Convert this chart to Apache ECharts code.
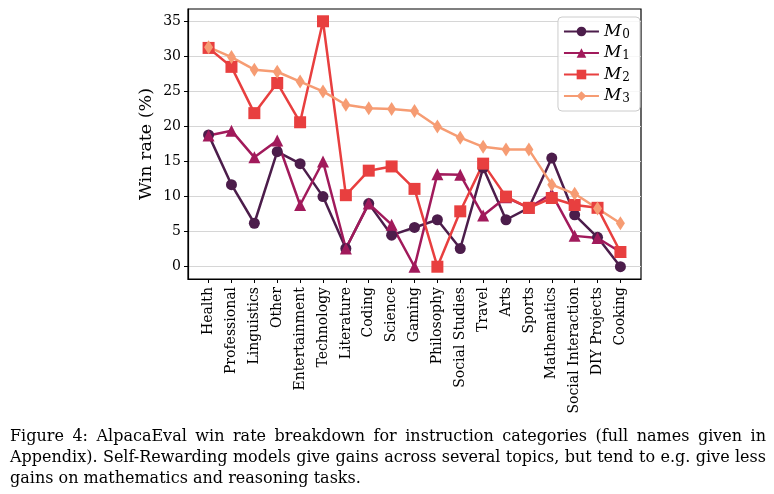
<!DOCTYPE html>
<html>
<head>
<meta charset="utf-8">
<script src="https://cdn.jsdelivr.net/npm/echarts@6/dist/echarts.min.js"></script>
<style>
html,body{margin:0;padding:0;background:#fff;}
#chart{width:774px;height:494px;}
</style>
</head>
<body>
<div id="chart"></div>
<script>
const categories = ["Health","Professional","Linguistics","Other","Entertainment","Technology","Literature","Coding","Science","Gaming","Philosophy","Social Studies","Travel","Arts","Sports","Mathematics","Social Interaction","DIY Projects","Cooking"];
const m0 = [18.8, 11.7, 6.2, 16.4, 14.7, 10.0, 2.6, 9.0, 4.5, 5.6, 6.7, 2.6, 14.1, 6.7, 8.4, 15.5, 7.4, 4.2, 0.0];
const m1 = [18.7, 19.4, 15.6, 18.0, 8.8, 15.0, 2.6, 9.0, 6.0, 0.0, 13.2, 13.1, 7.3, 9.9, 8.4, 10.4, 4.4, 4.1, 2.1];
const m2 = [31.2, 28.5, 21.9, 26.2, 20.6, 35.0, 10.2, 13.7, 14.3, 11.1, 0.0, 7.9, 14.7, 10.0, 8.4, 9.8, 8.8, 8.4, 2.1];
const m3 = [31.3, 29.9, 28.1, 27.8, 26.4, 25.0, 23.1, 22.6, 22.5, 22.2, 20.0, 18.4, 17.1, 16.7, 16.7, 11.7, 10.4, 8.3, 6.2];
const yTicks = [0, 5, 10, 15, 20, 25, 30, 35];
const seriesNames = ["M0", "M1", "M2", "M3"];
const seriesColors = ["#4c1d4b", "#a11a5b", "#e83f3f", "#f69c73"];
const captionLines = [
  "Figure 4: AlpacaEval win rate breakdown for instruction categories (full names given in",
  "Appendix). Self-Rewarding models give gains across several topics, but tend to e.g. give less",
  "gains on mathematics and reasoning tasks."
];

const FONT = '"DejaVu Serif", serif';
const chart = echarts.init(document.getElementById('chart'));
const xIdx = categories.map((_, i) => i);
const toPairs = arr => arr.map((v, i) => [i, v]);
const symbols = ['circle', 'triangle', 'rect', 'diamond'];
const symbolSizes = [11, 12, 12, [9, 14]];
const datasets = [m0, m1, m2, m3];

// caption: justified lines built from words
const capFontSize = 16;
const capFont = capFontSize + 'px ' + FONT;
const ctx = document.createElement('canvas').getContext('2d');
ctx.font = capFont;
const capLeft = 10, capRight = 766;
const capY = [437, 458, 479];
const graphics = [];
captionLines.forEach((line, li) => {
  const justify = li < captionLines.length - 1;
  if (!justify) {
    graphics.push({type: 'text', x: capLeft, y: capY[li], style: {text: line, font: capFont, fill: '#000', textVerticalAlign: 'middle'}});
    return;
  }
  const words = line.split(' ');
  const widths = words.map(w => ctx.measureText(w).width);
  const total = widths.reduce((a, b) => a + b, 0);
  const gap = (capRight - capLeft - total) / (words.length - 1);
  let x = capLeft;
  words.forEach((w, wi) => {
    graphics.push({type: 'text', x: x, y: capY[li], style: {text: w, font: capFont, fill: '#000', textVerticalAlign: 'middle'}});
    x += widths[wi] + gap;
  });
});
graphics.push({
  type: 'text', x: 146, y: 144, rotation: Math.PI / 2,
  style: {text: 'Win rate (%)', font: '17.5px ' + FONT, fill: '#000', textAlign: 'center', textVerticalAlign: 'middle'}
});

const option = {
  animation: false,
  backgroundColor: '#fff',
  grid: {left: 188, right: 133, top: 9, bottom: 215, show: true, borderColor: '#000', borderWidth: 1.2, containLabel: false},
  xAxis: {
    type: 'value', min: -0.9, max: 18.9,
    axisLine: {show: true, onZero: false, lineStyle: {color: '#000', width: 1.2}},
    axisTick: {show: true, customValues: xIdx, length: 4, lineStyle: {color: '#000', width: 1}},
    axisLabel: {
      show: true, customValues: xIdx, rotate: 90, margin: 8,
      formatter: v => categories[Math.round(v)] || '',
      fontFamily: FONT, fontSize: 14, color: '#000'
    },
    splitLine: {show: false}
  },
  yAxis: {
    type: 'value', min: -1.75, max: 36.75,
    axisLine: {show: true, onZero: false, lineStyle: {color: '#000', width: 1.2}},
    axisTick: {show: true, customValues: yTicks, length: 4, lineStyle: {color: '#000', width: 1}},
    axisLabel: {show: true, customValues: yTicks, margin: 7, fontFamily: FONT, fontSize: 14, color: '#000'},
    splitLine: {show: true, lineStyle: {color: '#d6d6d6', width: 1}}
  },
  legend: {
    orient: 'vertical', right: 134, top: 17,
    itemWidth: 35, itemHeight: 12, itemGap: 4,
    padding: [6, 10, 6, 5],
    backgroundColor: 'rgba(255,255,255,0.8)',
    borderColor: '#cccccc', borderWidth: 1, borderRadius: 4,
    data: seriesNames,
    formatter: name => '{i|M}{s|' + name.slice(1) + '}',
    textStyle: {
      rich: {
        i: {fontFamily: FONT, fontStyle: 'italic', fontSize: 17, color: '#000', lineHeight: 18},
        s: {fontFamily: FONT, fontSize: 12, color: '#000', verticalAlign: 'bottom', lineHeight: 18, padding: [5, 0, 0, 1]}
      }
    }
  },
  series: datasets.map((d, k) => ({
    name: seriesNames[k], type: 'line', data: toPairs(d),
    symbol: symbols[k], symbolSize: symbolSizes[k], showAllSymbol: true,
    lineStyle: {color: seriesColors[k], width: 2.5},
    itemStyle: {color: seriesColors[k], borderWidth: 0},
    emphasis: {disabled: true}
  })),
  graphic: graphics
};
chart.setOption(option);
</script>
</body>
</html>
